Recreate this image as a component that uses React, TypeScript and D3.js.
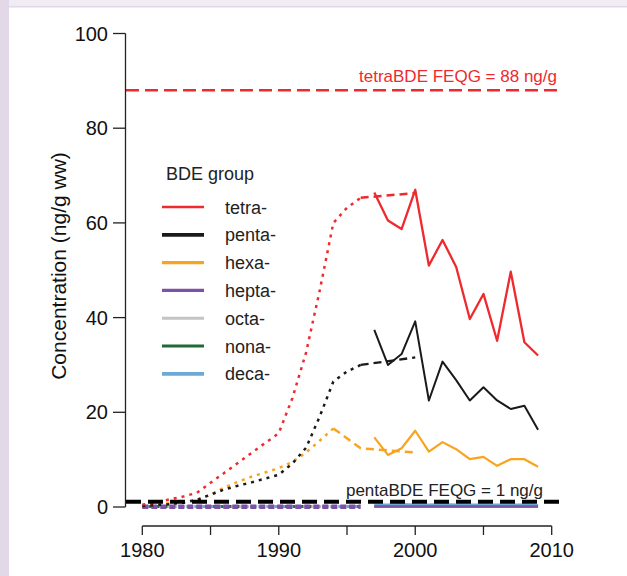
import React from "react";
import * as d3 from "d3";

// Measured (solid) and modelled (dotted / dashed) BDE concentrations, ng/g ww
const measuredYears = [1997, 1998, 1999, 2000, 2001, 2002, 2003, 2004, 2005, 2006, 2007, 2008, 2009];
const tetraMeasured = [66.4, 60.5, 58.7, 67.0, 51.0, 56.4, 50.7, 39.7, 45.0, 35.1, 49.7, 34.8, 32.0];
const pentaMeasured = [37.4, 30.0, 32.3, 39.2, 22.5, 30.7, 26.8, 22.5, 25.3, 22.5, 20.7, 21.4, 16.3];
const hexaMeasured = [14.7, 11.0, 12.4, 16.1, 11.7, 13.7, 12.2, 10.1, 10.6, 8.7, 10.1, 10.1, 8.5];
const heptaMeasured = [0.1, 0.1, 0.1, 0.1, 0.1, 0.1, 0.1, 0.1, 0.1, 0.1, 0.1, 0.1, 0.1];
const octaMeasured = [0.2, 0.2, 0.2, 0.2, 0.2, 0.2, 0.2, 0.2, 0.2, 0.2, 0.2, 0.2, 0.2];
const nonaMeasured = [0.1, 0.1, 0.1, 0.1, 0.1, 0.1, 0.1, 0.1, 0.1, 0.1, 0.1, 0.1, 0.1];
const decaMeasured = [0.5, 0.5, 0.6, 0.5, 0.5, 0.6, 0.5, 0.5, 0.5, 0.5, 0.5, 0.5, 0.4];

const modelYears = [1980, 1981, 1982, 1983, 1984, 1985, 1986, 1987, 1988, 1989, 1990, 1991, 1992, 1993, 1994, 1995, 1996];
const tetraModel = [0.5, 1.0, 1.6, 2.2, 3.0, 5.1, 7.2, 9.3, 11.4, 13.5, 15.6, 23.0, 32.6, 45.7, 60.0, 63.2, 65.3];
const pentaModel = [0.2, 0.4, 0.6, 0.9, 1.5, 2.6, 3.7, 4.5, 5.2, 6.0, 6.8, 9.2, 12.5, 19.1, 26.5, 28.6, 30.0];
const heptaModel = [0.05, 0.05, 0.05, 0.05, 0.05, 0.05, 0.05, 0.05, 0.05, 0.05, 0.05, 0.05, 0.05, 0.05, 0.05, 0.05, 0.05];
const lowModel = [0.1, 0.1, 0.1, 0.1, 0.1, 0.1, 0.1, 0.1, 0.1, 0.1, 0.1, 0.1, 0.1, 0.1, 0.1, 0.1, 0.1];

const hexaModelYears = [1980, 1981, 1982, 1983, 1984, 1985, 1986, 1987, 1988, 1989, 1990, 1991, 1992, 1993, 1994];
const hexaModel = [0.3, 0.5, 0.8, 1.1, 1.5, 2.6, 4.1, 5.3, 6.4, 7.3, 8.2, 9.5, 11.5, 14.0, 16.6];

// Bridging segments between model and monitoring period
const tetraBridgeYears = [1996, 2000];
const tetraBridge = [65.3, 66.3];
const pentaBridgeYears = [1996, 2000];
const pentaBridge = [30.0, 31.6];
const hexaBridgeYears = [1994, 1996, 2000];
const hexaBridge = [16.6, 12.4, 11.5];

// Guideline levels
const tetraFEQG = 88;
const pentaFEQG = 1;

const groupNames = ["tetra-", "penta-", "hexa-", "hepta-", "octa-", "nona-", "deca-"];
const groupColors = ["#ee2a2f", "#1a1a1a", "#f9a41f", "#7b52a6", "#c4c4c4", "#1f6a35", "#6aaad4"];
const legendWidths = [2.6, 3.8, 3.4, 3.2, 3, 3, 3.8];

const yTicks = [0, 20, 40, 60, 80, 100];
const xTicks = [1980, 1985, 1990, 1995, 2000, 2005, 2010];
const xLabels = [1980, 1990, 2000, 2010];

const FONT = "'Liberation Sans', Arial, Helvetica, sans-serif";

export default function App() {
  const W = 627;
  const H = 576;
  const plotLeft = 126;
  const plotRight = 562;

  const x = d3.scaleLinear().domain([1980, 2010]).range([142.3, 551.7]);
  const y = d3.scaleLinear().domain([0, 100]).range([507, 33.5]);

  const path = (years: number[], vals: number[]) =>
    d3
      .line<number>()
      .x((_, i) => x(years[i]))
      .y((v) => y(v))(vals) || "";

  const dotted = "3,5";
  const dashed = "8,5";

  const xAxisY = 526;

  return (
    <svg
      width={W}
      height={H}
      style={{ position: "absolute", left: 0, top: 0, background: "#fff" }}
      fontFamily={FONT}
    >
      {/* frame bands */}
      <rect x={0} y={0} width={W} height={7} fill="#f1ebf4" />
      <rect x={0} y={6} width={W} height={1.5} fill="#e2d7e8" />
      <rect x={0} y={0} width={9} height={H} fill="#e2d8e8" />

      {/* near-zero groups */}
      <path d={path(modelYears, lowModel)} fill="none" stroke={groupColors[4]} strokeWidth={3} strokeDasharray={dotted} />
      <path d={path(modelYears, lowModel)} fill="none" stroke={groupColors[5]} strokeWidth={3} strokeDasharray={dotted} strokeDashoffset={2} />
      <path d={path(modelYears, lowModel)} fill="none" stroke={groupColors[6]} strokeWidth={3} strokeDasharray={dotted} strokeDashoffset={4} />
      <path d={path(measuredYears, octaMeasured)} fill="none" stroke={groupColors[4]} strokeWidth={2} />
      <path d={path(measuredYears, nonaMeasured)} fill="none" stroke={groupColors[5]} strokeWidth={2} />
      <path d={path(measuredYears, decaMeasured)} fill="none" stroke={groupColors[6]} strokeWidth={2.2} />
      <path d={path(modelYears, heptaModel)} fill="none" stroke={groupColors[3]} strokeWidth={4.5} strokeDasharray="6,3" />
      <path d={path(measuredYears, heptaMeasured)} fill="none" stroke={groupColors[3]} strokeWidth={2.4} />

      {/* hexa */}
      <path d={path(hexaModelYears, hexaModel)} fill="none" stroke={groupColors[2]} strokeWidth={2.5} strokeDasharray={dotted} />
      <path d={path(hexaBridgeYears, hexaBridge)} fill="none" stroke={groupColors[2]} strokeWidth={2.5} strokeDasharray={dashed} />
      <path d={path(measuredYears, hexaMeasured)} fill="none" stroke={groupColors[2]} strokeWidth={2.2} strokeLinejoin="round" />

      {/* penta */}
      <path d={path(modelYears, pentaModel)} fill="none" stroke={groupColors[1]} strokeWidth={2.5} strokeDasharray={dotted} />
      <path d={path(pentaBridgeYears, pentaBridge)} fill="none" stroke={groupColors[1]} strokeWidth={2.3} strokeDasharray={dashed} />
      <path d={path(measuredYears, pentaMeasured)} fill="none" stroke={groupColors[1]} strokeWidth={2} strokeLinejoin="round" />

      {/* tetra */}
      <path d={path(modelYears, tetraModel)} fill="none" stroke={groupColors[0]} strokeWidth={2.5} strokeDasharray={dotted} />
      <path d={path(tetraBridgeYears, tetraBridge)} fill="none" stroke={groupColors[0]} strokeWidth={2.5} strokeDasharray={dashed} />
      <path d={path(measuredYears, tetraMeasured)} fill="none" stroke={groupColors[0]} strokeWidth={2.3} strokeLinejoin="round" />

      {/* guideline levels */}
      <line x1={plotLeft} x2={plotRight} y1={y(tetraFEQG)} y2={y(tetraFEQG)} stroke="#ee2a2f" strokeWidth={2.6} strokeDasharray="13,6" />
      <text x={557} y={82} fontSize={17} fill="#ee2a2f" textAnchor="end">
        tetraBDE FEQG = {tetraFEQG} ng/g
      </text>
      <line x1={plotLeft} x2={plotRight} y1={y(pentaFEQG) - 0.5} y2={y(pentaFEQG) - 0.5} stroke="#000" strokeWidth={3.8} strokeDasharray="15,7" />
      <text x={543} y={496} fontSize={17} fill="#222" textAnchor="end">
        pentaBDE FEQG = {pentaFEQG} ng/g
      </text>

      {/* y axis */}
      <line x1={plotLeft - 0.5} x2={plotLeft - 0.5} y1={y(0)} y2={y(100)} stroke="#222" strokeWidth={1.3} />
      {yTicks.map((t) => (
        <g key={t}>
          <line x1={113} x2={plotLeft - 0.5} y1={y(t)} y2={y(t)} stroke="#222" strokeWidth={1.3} />
          <text x={108} y={y(t) + 7} fontSize={20} textAnchor="end" fill="#111">
            {t}
          </text>
        </g>
      ))}
      <text
        transform={`translate(66, 266) rotate(-90)`}
        fontSize={21}
        textAnchor="middle"
        fill="#111"
      >
        Concentration (ng/g ww)
      </text>

      {/* x axis */}
      <line x1={x(1980)} x2={x(2010)} y1={xAxisY} y2={xAxisY} stroke="#222" strokeWidth={1.3} />
      {xTicks.map((t) => (
        <line key={t} x1={x(t)} x2={x(t)} y1={xAxisY} y2={xAxisY + 9} stroke="#222" strokeWidth={1.3} />
      ))}
      {xLabels.map((t) => (
        <text key={t} x={x(t)} y={557} fontSize={20} textAnchor="middle" fill="#111">
          {t}
        </text>
      ))}

      {/* legend */}
      <text x={166} y={180} fontSize={18} fill="#222">
        BDE group
      </text>
      {groupNames.map((name, i) => {
        const ly = 207 + i * 27.8;
        return (
          <g key={name}>
            <line x1={162} x2={204} y1={ly} y2={ly} stroke={groupColors[i]} strokeWidth={legendWidths[i]} />
            <text x={225} y={ly + 6.5} fontSize={18} fill="#222">
              {name}
            </text>
          </g>
        );
      })}
    </svg>
  );
}
